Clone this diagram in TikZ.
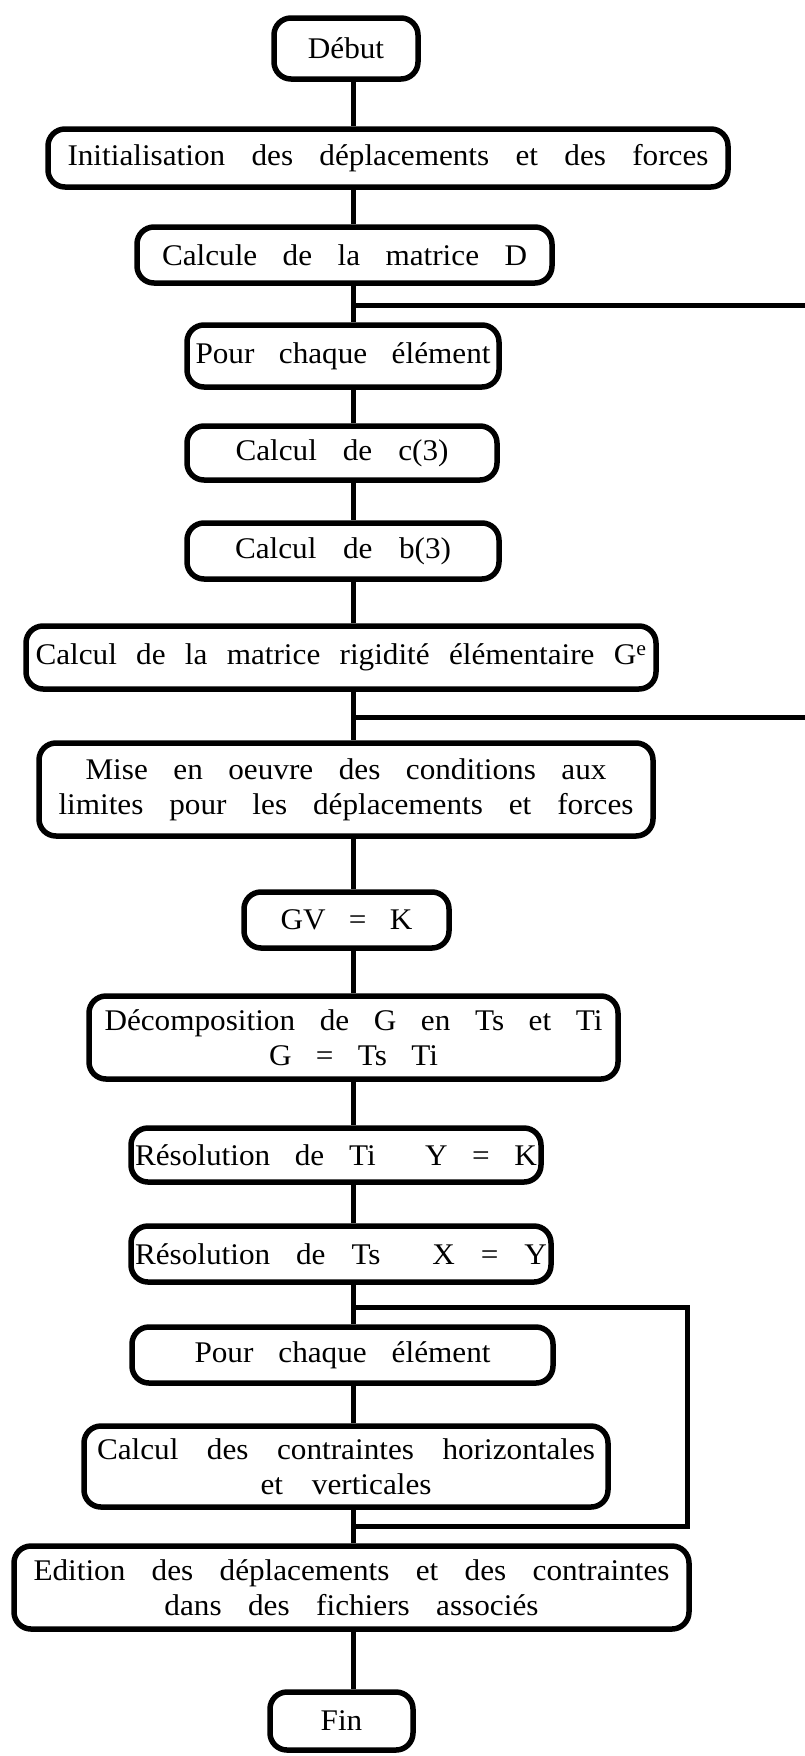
\documentclass[tikz,border=0pt]{standalone}
\usepackage{fontspec}
\setmainfont[FakeStretch=1.04]{Liberation Serif}
\begin{document}
\begin{tikzpicture}[x=1pt,y=-1pt,
  box/.style={draw=black, line width=5.5pt, rounded corners=17pt, fill=white,
    inner sep=0pt, align=center, font=\fontsize{30}{35}\selectfont},
  conn/.style={draw=black, line width=5pt}]
\useasboundingbox (0,0) rectangle (804,1756);
\fill[white] (0,0) rectangle (804,1756);
\newcommand{\jline}[2]{\makebox[#1pt][s]{#2}}
\coordinate (sp) at (353,0);

\node[box, minimum width=144pt, minimum height=61pt] (debut) at (346,48.5) {Début};
\node[box, minimum width=680pt, minimum height=58pt] (init) at (388,158) {\jline{641}{Initialisation des déplacements et des forces}};
\node[box, minimum width=415pt, minimum height=56pt] (calcD) at (344.5,255) {\jline{365}{Calcule de la matrice D}};
\node[box, minimum width=312pt, minimum height=62pt] (pour1) at (343,356) {\jline{295}{Pour chaque élément}};
\node[box, minimum width=310pt, minimum height=54pt] (calcc) at (342,453) {\jline{213}{Calcul de c(3)}};
\node[box, minimum width=312pt, minimum height=56pt] (calcb) at (343,551) {\jline{216}{Calcul de b(3)}};
\node[box, minimum width=630pt, minimum height=63pt] (calcG) at (341,657.5) {\jline{611}{Calcul de la matrice rigidité élémentaire G\textsuperscript{e}}};
\node[box, minimum width=614pt, minimum height=93pt] (mise) at (346,789.5) {\jline{521}{Mise en oeuvre des conditions aux}\\\jline{575}{limites pour les déplacements et forces}};
\node[box, minimum width=205pt, minimum height=56pt] (gvk) at (346.5,920) {\jline{132}{GV = K}};
\node[box, minimum width=529pt, minimum height=83pt] (decomp) at (353.5,1037.5) {\jline{498}{Décomposition de G en Ts et Ti}\\\jline{169}{G = Ts Ti}};
\node[box, minimum width=410pt, minimum height=54pt] (resti) at (336,1155) {\jline{402}{Résolution de Ti \ Y = K}};
\node[box, minimum width=420pt, minimum height=56pt] (rests) at (341,1254) {\jline{412}{Résolution de Ts \ X = Y}};
\node[box, minimum width=421pt, minimum height=56pt] (pour2) at (342.5,1355) {\jline{296}{Pour chaque élément}};
\node[box, minimum width=524pt, minimum height=81pt] (contr) at (346,1466.5) {\jline{498}{Calcul des contraintes horizontales}\\\jline{171}{et verticales}};
\node[box, minimum width=675pt, minimum height=83pt] (edit) at (351.5,1587.5) {\jline{636}{Edition des déplacements et des contraintes}\\\jline{374}{dans des fichiers associés}};
\node[box, minimum width=143pt, minimum height=58pt] (fin) at (341.5,1721) {Fin};

\foreach \a/\b in {debut/init, init/calcD, calcD/pour1, pour1/calcc, calcc/calcb, calcb/calcG, calcG/mise, mise/gvk, gvk/decomp, decomp/resti, resti/rests, rests/pour2, pour2/contr, contr/edit, edit/fin}
  \draw[conn] (\a.south -| sp) -- (\b.north -| sp);

\coordinate (j1) at (353,305);
\coordinate (j1r) at (806,305);
\draw[conn] (j1) -- (j1r);
\coordinate (j2) at (353,717);
\coordinate (j2r) at (806,717);
\draw[conn] (j2) -- (j2r);
\coordinate (j3a) at (353,1307);
\coordinate (j3b) at (687,1307);
\coordinate (j3c) at (687,1526);
\coordinate (j3d) at (353,1526);
\draw[conn] (j3a) -- (j3b) -- (j3c) -- (j3d);
\end{tikzpicture}
\end{document}
